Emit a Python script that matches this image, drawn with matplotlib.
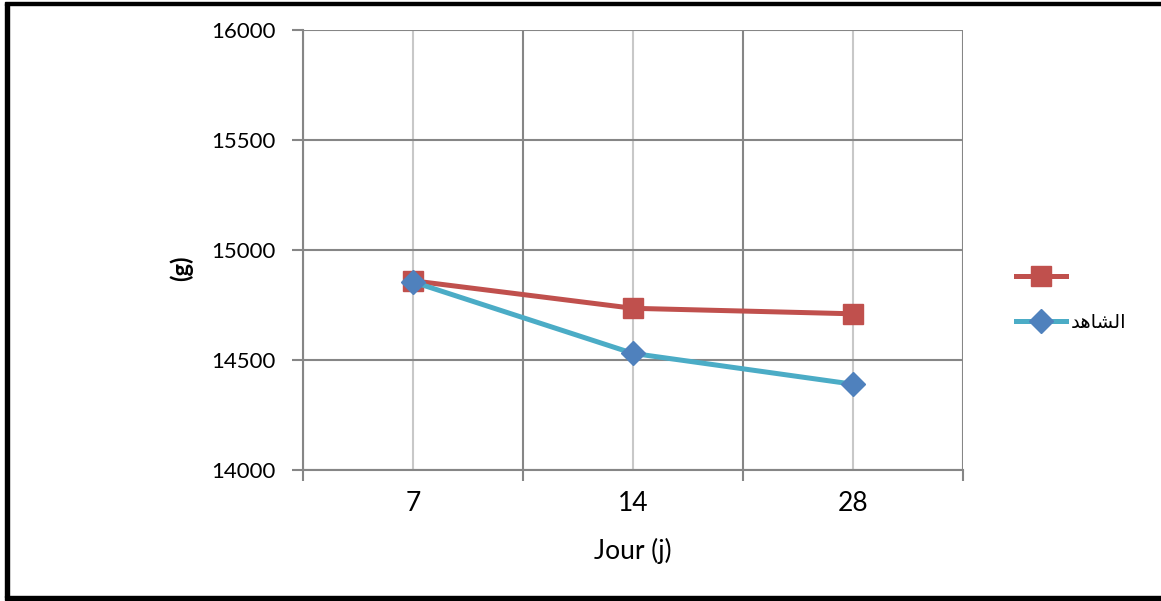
import matplotlib
matplotlib.use("Agg")
import matplotlib.pyplot as plt
from matplotlib.lines import Line2D
from matplotlib.patches import Rectangle

plt.rcParams["font.family"] = ["Lato", "DejaVu Sans"]

days = ["7", "14", "28"]
traite = [14860, 14735, 14710]
temoin = [14855, 14530, 14390]
# "الشاهد" in shaped presentation forms (matplotlib does no Arabic shaping)
temoin_label = "\ufeaa\ufeeb\ufe8e\ufeb8\ufedf\ufe8d"

RED = "#c0504d"
CYAN = "#4bacc6"
BLUE = "#4f81bd"
GRID_DARK = "#868686"
GRID_LIGHT = "#c8c8c8"

fig = plt.figure(figsize=(11.61, 6.01), dpi=100)
ax = fig.add_axes([303 / 1161, 1 - 470 / 601, 660 / 1161, 440 / 601])

x = list(range(len(days)))
ax.plot(x, traite, color=RED, lw=3.6, marker="s", ms=14.5,
        markerfacecolor=RED, markeredgecolor=RED, zorder=3)
ax.plot(x, temoin, color=CYAN, lw=3.6, marker="D", ms=12,
        markerfacecolor=BLUE, markeredgecolor=BLUE, zorder=4)

ax.set_xlim(-0.5, len(days) - 0.5)
ax.set_ylim(14000, 16000)
ax.set_yticks([14000, 14500, 15000, 15500, 16000])
ax.set_xticks(x)
ax.set_xticklabels(days)
ax.set_xticks([i - 0.5 for i in range(len(days) + 1)], minor=True)

for s in ax.spines.values():
    s.set_color(GRID_DARK)
    s.set_linewidth(1.5)
ax.spines["top"].set_visible(False)
ax.spines["right"].set_visible(False)

ax.grid(axis="y", color=GRID_DARK, lw=1.5)
ax.grid(axis="x", which="minor", color=GRID_DARK, lw=1.5)
ax.grid(axis="x", which="major", color=GRID_LIGHT, lw=1.5)
ax.set_axisbelow(True)

ax.tick_params(axis="y", length=8, width=1.5, color=GRID_DARK,
               labelsize=16, pad=12)
ax.tick_params(axis="x", which="major", length=0, labelsize=19, pad=15)
ax.tick_params(axis="x", which="minor", length=8, width=1.5,
               color=GRID_DARK)

ax.set_xlabel("Jour (j)", fontsize=19, labelpad=16)
fig.text(181 / 1161, 1 - 268 / 601, "(g)", rotation=90, fontsize=17,
         fontweight="bold", ha="center", va="center")

handles = [
    Line2D([], [], color=RED, lw=3.6, marker="s", ms=14.5,
           markerfacecolor=RED, markeredgecolor=RED),
    Line2D([], [], color=CYAN, lw=3.6, marker="D", ms=12,
           markerfacecolor=BLUE, markeredgecolor=BLUE),
]
fig.legend(handles, ["", temoin_label], loc="upper left",
           bbox_to_anchor=(1008 / 1161, 1 - 260 / 601),
           frameon=False, prop={"family": "DejaVu Sans", "size": 14},
           handlelength=2.6, handletextpad=0.25, labelspacing=1.35,
           borderaxespad=0)

# outer frame (left, top, bottom edges)
fig.patches.append(Rectangle((5 / 1161, 4 / 601), 4 / 1161, 593 / 601,
                             transform=fig.transFigure, color="black"))
fig.patches.append(Rectangle((5 / 1161, 1 - 5 / 601), 1156 / 1161, 3 / 601,
                             transform=fig.transFigure, color="black"))
fig.patches.append(Rectangle((5 / 1161, 1 / 601), 1156 / 1161, 4 / 601,
                             transform=fig.transFigure, color="black"))

fig.savefig("out.png", dpi=100)
